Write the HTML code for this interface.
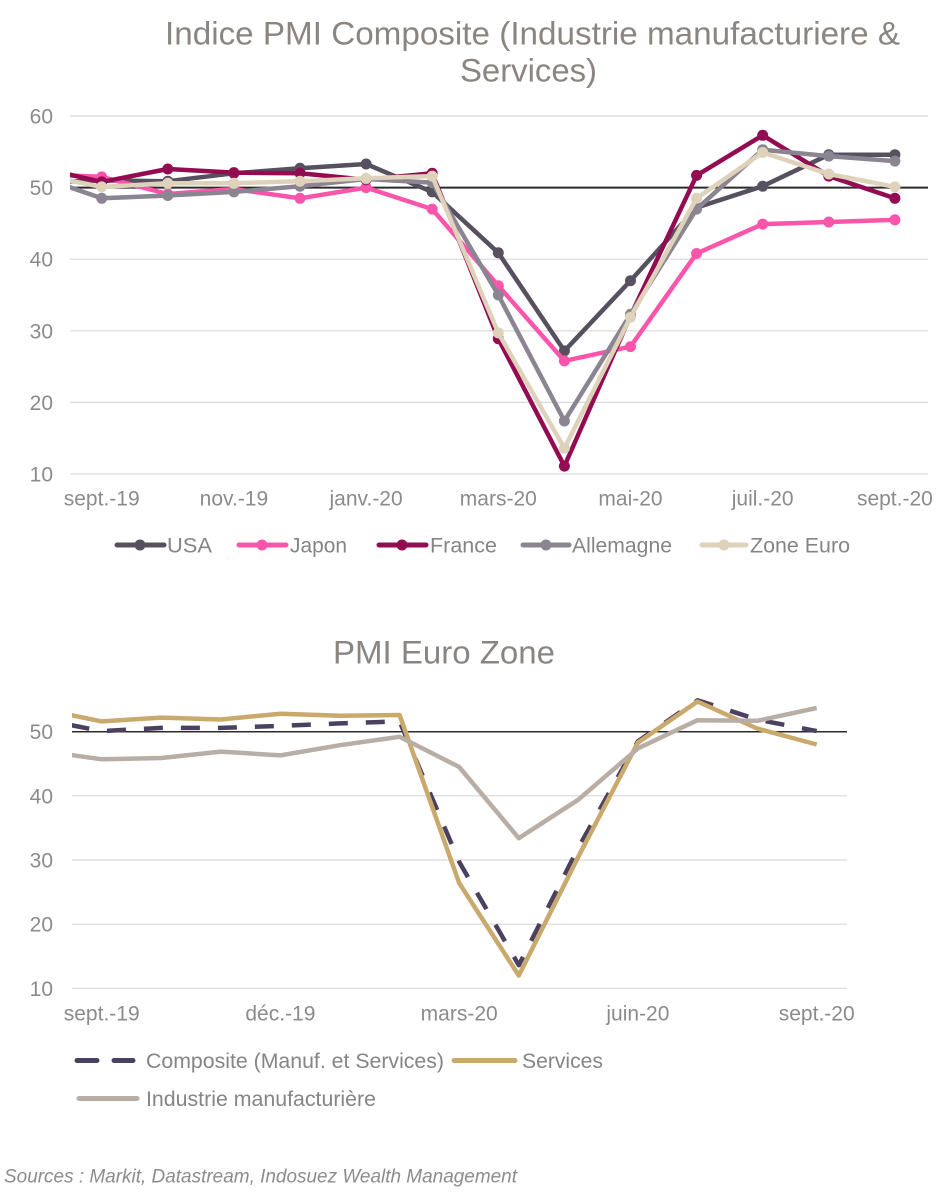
<!DOCTYPE html>
<html>
<head>
<meta charset="utf-8">
<style>
html,body{margin:0;padding:0;background:#fff;}
svg{display:block;}
text{font-family:"Liberation Sans",Arial,sans-serif;}
</style>
</head>
<body>
<svg width="947" height="1200" viewBox="0 0 947 1200" xmlns="http://www.w3.org/2000/svg">
<defs>
<clipPath id="c1"><rect x="70" y="100" width="860" height="400"/></clipPath>
<clipPath id="c2"><rect x="72" y="680" width="780" height="320"/></clipPath>
</defs>
<rect width="947" height="1200" fill="#fff"/>

<!-- ===== Chart 1 ===== -->
<text x="165" y="44.5" font-size="32" fill="#8a8581" textLength="735" lengthAdjust="spacingAndGlyphs">Indice PMI Composite (Industrie manufacturiere &amp;</text>
<text x="460" y="81.5" font-size="32" fill="#8a8581" textLength="137" lengthAdjust="spacingAndGlyphs">Services)</text>

<g stroke="#d9d9d9" stroke-width="1.2">
<line x1="70" y1="116" x2="928" y2="116"/>
<line x1="70" y1="259.2" x2="928" y2="259.2"/>
<line x1="70" y1="330.8" x2="928" y2="330.8"/>
<line x1="70" y1="402.4" x2="928" y2="402.4"/>
<line x1="70" y1="474" x2="928" y2="474"/>
</g>
<line x1="70" y1="187.6" x2="928" y2="187.6" stroke="#2b2b2b" stroke-width="2"/>

<g font-size="21" fill="#8b8b8b" text-anchor="end">
<text x="53" y="123.5">60</text>
<text x="53" y="195">50</text>
<text x="53" y="266.7">40</text>
<text x="53" y="338.3">30</text>
<text x="53" y="409.9">20</text>
<text x="53" y="481.5">10</text>
</g>
<g font-size="21" fill="#8b8b8b" text-anchor="middle">
<text x="101.7" y="505.5">sept.-19</text>
<text x="233.9" y="505.5">nov.-19</text>
<text x="366.1" y="505.5">janv.-20</text>
<text x="498.3" y="505.5">mars-20</text>
<text x="630.5" y="505.5">mai-20</text>
<text x="762.7" y="505.5">juil.-20</text>
<text x="894.9" y="505.5">sept.-20</text>
</g>

<g clip-path="url(#c1)" fill="none" stroke-width="4.5" stroke-linejoin="round">
<!-- USA -->
<polyline stroke="#57505f" points="35.6,182.6 101.7,180.4 167.8,181.2 233.9,173.3 300,168.3 366.1,164 432.2,191.9 498.3,252.8 564.4,350.9 630.5,280.7 696.6,207.6 762.7,186.2 828.8,154.7 894.9,154.7"/>
<g fill="#57505f" stroke="none">
<circle cx="101.7" cy="180.4" r="5.5"/><circle cx="167.8" cy="181.2" r="5.5"/><circle cx="233.9" cy="173.3" r="5.5"/><circle cx="300" cy="168.3" r="5.5"/><circle cx="366.1" cy="164" r="5.5"/><circle cx="432.2" cy="191.9" r="5.5"/><circle cx="498.3" cy="252.8" r="5.5"/><circle cx="564.4" cy="350.9" r="5.5"/><circle cx="630.5" cy="280.7" r="5.5"/><circle cx="696.6" cy="207.6" r="5.5"/><circle cx="762.7" cy="186.2" r="5.5"/><circle cx="828.8" cy="154.7" r="5.5"/><circle cx="894.9" cy="154.7" r="5.5"/>
</g>
<!-- Japon -->
<polyline stroke="#fb55ab" points="35.6,174 101.7,176.9 167.8,194 233.9,189 300,198.3 366.1,187.6 432.2,209.1 498.3,285.7 564.4,360.9 630.5,346.6 696.6,253.5 762.7,224.1 828.8,222 894.9,219.8"/>
<g fill="#fb55ab" stroke="none">
<circle cx="101.7" cy="176.9" r="5.5"/><circle cx="167.8" cy="194" r="5.5"/><circle cx="233.9" cy="189" r="5.5"/><circle cx="300" cy="198.3" r="5.5"/><circle cx="366.1" cy="187.6" r="5.5"/><circle cx="432.2" cy="209.1" r="5.5"/><circle cx="498.3" cy="285.7" r="5.5"/><circle cx="564.4" cy="360.9" r="5.5"/><circle cx="630.5" cy="346.6" r="5.5"/><circle cx="696.6" cy="253.5" r="5.5"/><circle cx="762.7" cy="224.1" r="5.5"/><circle cx="828.8" cy="222" r="5.5"/><circle cx="894.9" cy="219.8" r="5.5"/>
</g>
<!-- France -->
<polyline stroke="#930b51" points="35.6,166.8 101.7,181.9 167.8,169 233.9,172.6 300,173.3 366.1,179.7 432.2,173.3 498.3,338.7 564.4,466.1 630.5,315.8 696.6,175.4 762.7,135.3 828.8,176.1 894.9,198.3"/>
<g fill="#930b51" stroke="none">
<circle cx="101.7" cy="181.9" r="5.5"/><circle cx="167.8" cy="169" r="5.5"/><circle cx="233.9" cy="172.6" r="5.5"/><circle cx="300" cy="173.3" r="5.5"/><circle cx="366.1" cy="179.7" r="5.5"/><circle cx="432.2" cy="173.3" r="5.5"/><circle cx="498.3" cy="338.7" r="5.5"/><circle cx="564.4" cy="466.1" r="5.5"/><circle cx="630.5" cy="315.8" r="5.5"/><circle cx="696.6" cy="175.4" r="5.5"/><circle cx="762.7" cy="135.3" r="5.5"/><circle cx="828.8" cy="176.1" r="5.5"/><circle cx="894.9" cy="198.3" r="5.5"/>
</g>
<!-- Allemagne -->
<polyline stroke="#8b8592" points="35.6,175.4 101.7,198.3 167.8,195.5 233.9,191.9 300,186.2 366.1,179 432.2,182.6 498.3,295 564.4,421 630.5,314.3 696.6,209.1 762.7,149.7 828.8,156.1 894.9,161.1"/>
<g fill="#8b8592" stroke="none">
<circle cx="101.7" cy="198.3" r="5.5"/><circle cx="167.8" cy="195.5" r="5.5"/><circle cx="233.9" cy="191.9" r="5.5"/><circle cx="300" cy="186.2" r="5.5"/><circle cx="366.1" cy="179" r="5.5"/><circle cx="432.2" cy="182.6" r="5.5"/><circle cx="498.3" cy="295" r="5.5"/><circle cx="564.4" cy="421" r="5.5"/><circle cx="630.5" cy="314.3" r="5.5"/><circle cx="696.6" cy="209.1" r="5.5"/><circle cx="762.7" cy="149.7" r="5.5"/><circle cx="828.8" cy="156.1" r="5.5"/><circle cx="894.9" cy="161.1" r="5.5"/>
</g>
<!-- Zone Euro -->
<polyline stroke="#dfd2bb" points="35.6,174 101.7,186.9 167.8,183.3 233.9,183.3 300,181.2 366.1,178.3 432.2,176.1 498.3,332.9 564.4,448.2 630.5,317.2 696.6,198.3 762.7,152.5 828.8,174 894.9,186.9"/>
<g fill="#dfd2bb" stroke="none">
<circle cx="101.7" cy="186.9" r="5.5"/><circle cx="167.8" cy="183.3" r="5.5"/><circle cx="233.9" cy="183.3" r="5.5"/><circle cx="300" cy="181.2" r="5.5"/><circle cx="366.1" cy="178.3" r="5.5"/><circle cx="432.2" cy="176.1" r="5.5"/><circle cx="498.3" cy="332.9" r="5.5"/><circle cx="564.4" cy="448.2" r="5.5"/><circle cx="630.5" cy="317.2" r="5.5"/><circle cx="696.6" cy="198.3" r="5.5"/><circle cx="762.7" cy="152.5" r="5.5"/><circle cx="828.8" cy="174" r="5.5"/><circle cx="894.9" cy="186.9" r="5.5"/>
</g>
</g>

<!-- Legend 1 -->
<g stroke-width="5" stroke-linecap="round">
<line x1="117" y1="545" x2="164" y2="545" stroke="#57505f"/>
<line x1="239" y1="545" x2="286" y2="545" stroke="#fb55ab"/>
<line x1="379" y1="545" x2="426" y2="545" stroke="#930b51"/>
<line x1="523" y1="545" x2="569" y2="545" stroke="#8b8592"/>
<line x1="702" y1="545" x2="746" y2="545" stroke="#dfd2bb"/>
</g>
<circle cx="140" cy="545" r="5.5" fill="#57505f"/>
<circle cx="262" cy="545" r="5.5" fill="#fb55ab"/>
<circle cx="402" cy="545" r="5.5" fill="#930b51"/>
<circle cx="546" cy="545" r="5.5" fill="#8b8592"/>
<circle cx="724" cy="545" r="5.5" fill="#dfd2bb"/>
<g font-size="21" fill="#858585">
<text x="167" y="552.5" textLength="45" lengthAdjust="spacingAndGlyphs">USA</text>
<text x="290" y="552.5" textLength="57" lengthAdjust="spacingAndGlyphs">Japon</text>
<text x="430" y="552.5" textLength="67" lengthAdjust="spacingAndGlyphs">France</text>
<text x="572" y="552.5" textLength="100" lengthAdjust="spacingAndGlyphs">Allemagne</text>
<text x="750" y="552.5" textLength="100" lengthAdjust="spacingAndGlyphs">Zone Euro</text>
</g>

<!-- ===== Chart 2 ===== -->
<text x="333" y="663.5" font-size="32" fill="#8a8581" textLength="222" lengthAdjust="spacingAndGlyphs">PMI Euro Zone</text>

<g stroke="#d9d9d9" stroke-width="1.2">
<line x1="72" y1="795.8" x2="847" y2="795.8"/>
<line x1="72" y1="860" x2="847" y2="860"/>
<line x1="72" y1="924.2" x2="847" y2="924.2"/>
<line x1="72" y1="988.3" x2="847" y2="988.3"/>
</g>
<line x1="72" y1="731.7" x2="847" y2="731.7" stroke="#2b2b2b" stroke-width="1.5"/>

<g font-size="21" fill="#8b8b8b" text-anchor="end">
<text x="53" y="739.2">50</text>
<text x="53" y="803.3">40</text>
<text x="53" y="867.5">30</text>
<text x="53" y="931.7">20</text>
<text x="53" y="995.8">10</text>
</g>
<g font-size="21" fill="#8b8b8b" text-anchor="middle">
<text x="101.7" y="1020.5">sept.-19</text>
<text x="280.4" y="1020.5">déc.-19</text>
<text x="459.2" y="1020.5">mars-20</text>
<text x="637.9" y="1020.5">juin-20</text>
<text x="816.7" y="1020.5">sept.-20</text>
</g>

<g clip-path="url(#c2)" fill="none" stroke-width="4.5" stroke-linejoin="round">
<!-- Composite dashed -->
<polyline stroke="#4a4160" stroke-dasharray="19,18" stroke-dashoffset="8" points="42.1,719.5 101.7,731.1 161.3,727.9 220.9,727.9 280.4,725.9 340,723.4 399.6,721.4 459.2,861.9 518.8,965.2 578.3,847.8 637.9,741.3 697.5,700.3 757.1,719.5 816.7,731.1"/>
<!-- Services -->
<polyline stroke="#c9a96c" points="42.1,709.2 101.7,721.4 161.3,717.6 220.9,719.5 280.4,713.7 340,715.7 399.6,715 459.2,883.1 518.8,975.5 578.3,856.8 637.9,742.6 697.5,701.5 757.1,728.5 816.7,744.5"/>
<!-- Industrie -->
<polyline stroke="#b9aea5" points="42.1,750.9 101.7,759.3 161.3,758 220.9,751.6 280.4,755.4 340,745.2 399.6,736.8 459.2,767 518.8,838.2 578.3,799.7 637.9,748.4 697.5,720.2 757.1,720.8 816.7,708"/>
</g>

<!-- Legend 2 -->
<g stroke-width="5">
<line x1="77" y1="1060.5" x2="97" y2="1060.5" stroke="#4a4160" stroke-linecap="round"/>
<line x1="114" y1="1060.5" x2="133" y2="1060.5" stroke="#4a4160" stroke-linecap="round"/>
<line x1="454" y1="1060.5" x2="515" y2="1060.5" stroke="#c9a96c" stroke-linecap="round"/>
<line x1="79" y1="1098.5" x2="137" y2="1098.5" stroke="#b9aea5" stroke-linecap="round"/>
</g>
<g font-size="21" fill="#858585">
<text x="146" y="1068" textLength="298" lengthAdjust="spacingAndGlyphs">Composite (Manuf. et Services)</text>
<text x="522" y="1068" textLength="81" lengthAdjust="spacingAndGlyphs">Services</text>
<text x="146" y="1106" textLength="230" lengthAdjust="spacingAndGlyphs">Industrie manufacturière</text>
</g>

<text x="4" y="1182.5" font-size="19" font-style="italic" fill="#8c8c8c" textLength="513" lengthAdjust="spacingAndGlyphs">Sources : Markit, Datastream, Indosuez Wealth Management</text>
</svg>
</body>
</html>
